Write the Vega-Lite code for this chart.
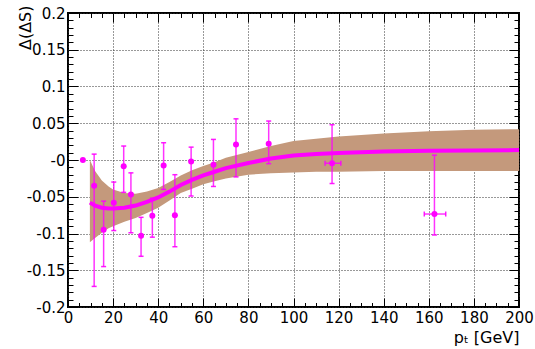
{
  "$schema": "https://vega.github.io/schema/vega-lite/v6.json",
  "width": 451,
  "height": 294,
  "autosize": {"type": "none"},
  "padding": {"left": 68, "top": 13, "right": 16, "bottom": 42},
  "background": "white",
  "config": {
    "view": {"stroke": "black", "strokeWidth": 2},
    "font": "DejaVu Sans",
    "axis": {"domain": false, "tickColor": "black", "tickWidth": 1, "labelColor": "black", "labelFont": "DejaVu Sans", "labelFontSize": 15, "titleFont": "DejaVu Sans", "titleFontSize": 16, "titleFontWeight": "normal", "titleColor": "black"}
  },
  "datasets": {
    "band": [
      {"x": 9.7, "c": -0.058, "lo": -0.112, "hi": 0.0},
      {"x": 12, "c": -0.062, "lo": -0.106, "hi": -0.015},
      {"x": 15, "c": -0.065, "lo": -0.099, "hi": -0.028},
      {"x": 18, "c": -0.066, "lo": -0.093, "hi": -0.036},
      {"x": 20, "c": -0.066, "lo": -0.090, "hi": -0.040},
      {"x": 25, "c": -0.065, "lo": -0.084, "hi": -0.045},
      {"x": 30, "c": -0.062, "lo": -0.079, "hi": -0.046},
      {"x": 35, "c": -0.057, "lo": -0.072, "hi": -0.043},
      {"x": 40, "c": -0.051, "lo": -0.065, "hi": -0.038},
      {"x": 45, "c": -0.043, "lo": -0.055, "hi": -0.030},
      {"x": 50, "c": -0.034, "lo": -0.045, "hi": -0.021},
      {"x": 55, "c": -0.027, "lo": -0.039, "hi": -0.014},
      {"x": 60, "c": -0.021, "lo": -0.033, "hi": -0.008},
      {"x": 65, "c": -0.016, "lo": -0.029, "hi": -0.003},
      {"x": 70, "c": -0.011, "lo": -0.025, "hi": 0.003},
      {"x": 80, "c": -0.004, "lo": -0.020, "hi": 0.011},
      {"x": 90, "c": 0.002, "lo": -0.018, "hi": 0.019},
      {"x": 100, "c": 0.006, "lo": -0.017, "hi": 0.026},
      {"x": 110, "c": 0.008, "lo": -0.016, "hi": 0.029},
      {"x": 120, "c": 0.0095, "lo": -0.016, "hi": 0.032},
      {"x": 140, "c": 0.0115, "lo": -0.015, "hi": 0.036},
      {"x": 160, "c": 0.0125, "lo": -0.015, "hi": 0.039},
      {"x": 180, "c": 0.013, "lo": -0.015, "hi": 0.041},
      {"x": 200, "c": 0.0135, "lo": -0.015, "hi": 0.042}
    ],
    "pts": [
      {"pt": 6.6, "v": 0.0},
      {"pt": 11.6, "v": -0.035, "lo": -0.172, "hi": 0.008},
      {"pt": 15.8, "v": -0.095, "lo": -0.145, "hi": -0.056},
      {"pt": 20.3, "v": -0.058, "lo": -0.096, "hi": -0.030},
      {"pt": 24.7, "v": -0.0085, "lo": -0.044, "hi": 0.019},
      {"pt": 27.9, "v": -0.047, "lo": -0.099, "hi": -0.0175},
      {"pt": 32.4, "v": -0.103, "lo": -0.131, "hi": -0.078},
      {"pt": 37.4, "v": -0.076, "lo": -0.105, "hi": -0.052},
      {"pt": 42.4, "v": -0.0075, "lo": -0.040, "hi": 0.0235},
      {"pt": 47.4, "v": -0.075, "lo": -0.118, "hi": -0.020},
      {"pt": 54.6, "v": -0.002, "lo": -0.049, "hi": 0.0175},
      {"pt": 64.5, "v": -0.0066, "lo": -0.036, "hi": 0.028},
      {"pt": 74.5, "v": 0.021, "lo": -0.023, "hi": 0.056},
      {"pt": 89.0, "v": 0.022, "lo": -0.005, "hi": 0.053},
      {"pt": 117.1, "v": -0.0044, "lo": -0.032, "hi": 0.048, "xlo": 114.0, "xhi": 121.0},
      {"pt": 162.5, "v": -0.0735, "lo": -0.102, "hi": 0.0066, "xlo": 158.0, "xhi": 167.5}
    ]
  },
  "resolve": {"axis": {"x": "independent", "y": "independent"}},
  "layer": [
    {
      "data": {"name": "band"},
      "mark": {"type": "area", "color": "#c4997c", "opacity": 1},
      "encoding": {
        "x": {"field": "x", "type": "quantitative", "scale": {"domain": [0, 200], "nice": false, "zero": false},
          "axis": {"orient": "bottom", "values": [0, 20, 40, 60, 80, 100, 120, 140, 160, 180, 200], "tickSize": -9, "labelPadding": 12, "grid": true, "gridDash": [1, 2], "gridColor": "#333333", "gridWidth": 1, "gridOpacity": 1, "labelFlush": false, "title": "pₜ [GeV]", "titleAnchor": "end", "titleBaseline": "alphabetic", "titleY": 35}},
        "y": {"field": "lo", "type": "quantitative", "scale": {"domain": [-0.2, 0.2], "nice": false, "zero": false},
          "axis": {"orient": "left", "values": [-0.2, -0.15, -0.1, -0.05, 0, 0.05, 0.1, 0.15, 0.2], "labelExpr": "datum.value === 0 ? '-0' : '' + datum.value", "tickSize": -10, "labelPadding": 13, "grid": true, "gridDash": [1, 2], "gridColor": "#333333", "gridWidth": 1, "gridOpacity": 1, "labelFlush": false, "title": "Δ(ΔS)", "titleAnchor": "end", "titleAlign": "right", "titleBaseline": "alphabetic", "titleX": -38, "titleY": -8}},
        "y2": {"field": "hi"}
      }
    },
    {
      "data": {"name": "band"},
      "mark": {"type": "line", "color": "#ff00ff", "strokeWidth": 4},
      "encoding": {
        "x": {"field": "x", "type": "quantitative", "axis": {"orient": "top", "values": [0, 20, 40, 60, 80, 100, 120, 140, 160, 180, 200], "tickSize": -9, "labels": false, "grid": false, "title": null}},
        "y": {"field": "c", "type": "quantitative", "axis": {"orient": "right", "values": [-0.2, -0.15, -0.1, -0.05, 0, 0.05, 0.1, 0.15, 0.2], "tickSize": -10, "labels": false, "grid": false, "title": null}}
      }
    },
    {
      "data": {"name": "pts"},
      "mark": {"type": "rule", "color": "#ff00ff", "strokeWidth": 1.5, "opacity": 0.8},
      "encoding": {
        "x": {"field": "pt", "type": "quantitative", "axis": {"orient": "bottom", "values": [5, 10, 15, 25, 30, 35, 45, 50, 55, 65, 70, 75, 85, 90, 95, 105, 110, 115, 125, 130, 135, 145, 150, 155, 165, 170, 175, 185, 190, 195], "tickSize": -4.5, "labels": false, "grid": false, "title": null}},
        "y": {"field": "lo", "type": "quantitative", "axis": {"orient": "left", "values": [-0.19, -0.18, -0.17, -0.16, -0.14, -0.13, -0.12, -0.11, -0.09, -0.08, -0.07, -0.06, -0.04, -0.03, -0.02, -0.01, 0.01, 0.02, 0.03, 0.04, 0.06, 0.07, 0.08, 0.09, 0.11, 0.12, 0.13, 0.14, 0.16, 0.17, 0.18, 0.19], "tickSize": -5, "labels": false, "grid": false, "title": null}},
        "y2": {"field": "hi"}
      }
    },
    {
      "data": {"name": "pts"},
      "transform": [{"filter": "isValid(datum.xlo)"}],
      "mark": {"type": "rule", "color": "#ff00ff", "strokeWidth": 1.5, "opacity": 0.8},
      "encoding": {
        "x": {"field": "xlo", "type": "quantitative", "axis": {"orient": "top", "values": [5, 10, 15, 25, 30, 35, 45, 50, 55, 65, 70, 75, 85, 90, 95, 105, 110, 115, 125, 130, 135, 145, 150, 155, 165, 170, 175, 185, 190, 195], "tickSize": -4.5, "labels": false, "grid": false, "title": null}},
        "x2": {"field": "xhi"},
        "y": {"field": "v", "type": "quantitative", "axis": {"orient": "right", "values": [-0.19, -0.18, -0.17, -0.16, -0.14, -0.13, -0.12, -0.11, -0.09, -0.08, -0.07, -0.06, -0.04, -0.03, -0.02, -0.01, 0.01, 0.02, 0.03, 0.04, 0.06, 0.07, 0.08, 0.09, 0.11, 0.12, 0.13, 0.14, 0.16, 0.17, 0.18, 0.19], "tickSize": -5, "labels": false, "grid": false, "title": null}}
      }
    },
    {
      "data": {"name": "pts"},
      "transform": [{"filter": "isValid(datum.lo)"}, {"fold": ["lo", "hi"], "as": ["end", "cap"]}],
      "mark": {"type": "tick", "orient": "horizontal", "color": "#ff00ff", "size": 5, "thickness": 1.5, "opacity": 0.9},
      "encoding": {
        "x": {"field": "pt", "type": "quantitative", "axis": null},
        "y": {"field": "cap", "type": "quantitative", "axis": null}
      }
    },
    {
      "data": {"name": "pts"},
      "transform": [{"filter": "isValid(datum.xlo)"}, {"fold": ["xlo", "xhi"], "as": ["end", "cap"]}],
      "mark": {"type": "tick", "orient": "vertical", "color": "#ff00ff", "size": 5, "thickness": 1.5, "opacity": 0.9},
      "encoding": {
        "x": {"field": "cap", "type": "quantitative", "axis": null},
        "y": {"field": "v", "type": "quantitative", "axis": null}
      }
    },
    {
      "data": {"name": "pts"},
      "mark": {"type": "circle", "color": "#ff00ff", "size": 36, "opacity": 1},
      "encoding": {
        "x": {"field": "pt", "type": "quantitative", "axis": null},
        "y": {"field": "v", "type": "quantitative", "axis": null}
      }
    }
  ]
}
